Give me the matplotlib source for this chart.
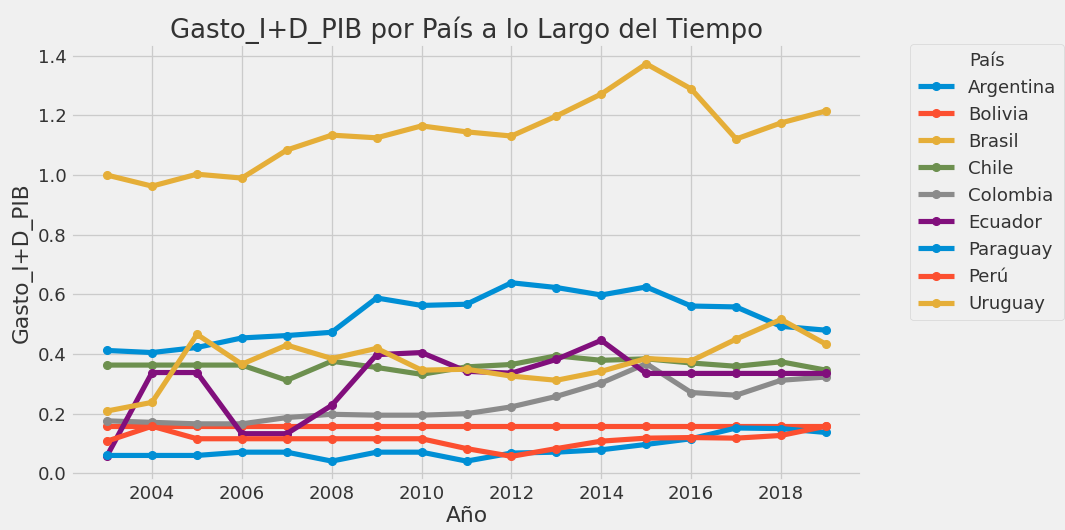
import matplotlib
import matplotlib.pyplot as plt
import numpy as np

plt.switch_backend('agg')

# ---- data ----
years = list(range(2003, 2020))

paises = ['Argentina', 'Bolivia', 'Brasil', 'Chile', 'Colombia',
          'Ecuador', 'Paraguay', 'Perú', 'Uruguay']

argentina = [0.412, 0.405, 0.422, 0.454, 0.462, 0.473, 0.588, 0.563, 0.567,
             0.639, 0.623, 0.598, 0.625, 0.561, 0.558, 0.493, 0.480]
bolivia = [0.158] * 17
brasil = [1.000, 0.963, 1.003, 0.990, 1.084, 1.134, 1.125, 1.165, 1.145,
          1.131, 1.198, 1.272, 1.373, 1.289, 1.121, 1.175, 1.215]
chile = [0.363, 0.363, 0.363, 0.363, 0.312, 0.376, 0.355, 0.332, 0.357,
         0.365, 0.394, 0.379, 0.384, 0.370, 0.359, 0.374, 0.346]
colombia = [0.176, 0.171, 0.166, 0.166, 0.187, 0.198, 0.195, 0.195, 0.200,
            0.223, 0.258, 0.303, 0.368, 0.271, 0.262, 0.312, 0.323]
ecuador = [0.059, 0.338, 0.338, 0.133, 0.133, 0.228, 0.398, 0.405, 0.342,
           0.336, 0.382, 0.446, 0.335, 0.335, 0.335, 0.335, 0.335]
paraguay = [0.060, 0.060, 0.060, 0.071, 0.071, 0.041, 0.071, 0.071, 0.041,
            0.068, 0.071, 0.079, 0.097, 0.116, 0.152, 0.150, 0.137]
peru = [0.108, 0.158, 0.116, 0.116, 0.116, 0.116, 0.116, 0.116, 0.083,
        0.057, 0.083, 0.108, 0.118, 0.120, 0.118, 0.127, 0.158]
uruguay = [0.209, 0.238, 0.466, 0.366, 0.430, 0.385, 0.419, 0.346, 0.349,
           0.326, 0.312, 0.342, 0.385, 0.377, 0.450, 0.516, 0.433]

series = [argentina, bolivia, brasil, chile, colombia,
          ecuador, paraguay, peru, uruguay]

# ---- plot ----
plt.style.use('fivethirtyeight')
plt.rcParams.update({'text.color': '#333333',
                     'axes.labelcolor': '#333333',
                     'xtick.color': '#333333',
                     'ytick.color': '#333333'})
DPI = 93
fig = plt.figure(figsize=(1065 / DPI, 530 / DPI), dpi=DPI)
fig.patch.set_facecolor('#f0f0f0')
ax = fig.add_axes([0.0668, 0.0925, 0.7425, 0.8245])

for name, vals in zip(paises, series):
    ax.plot(years, vals, marker='o', label=name)

ax.set_title('Gasto_I+D_PIB por País a lo Largo del Tiempo', pad=2)
ax.set_xlabel('Año', labelpad=2)
ax.set_ylabel('Gasto_I+D_PIB', labelpad=4)
ax.legend(title='País', bbox_to_anchor=(1.05, 1.02), loc='upper left')

plt.savefig('out.png', dpi=DPI, facecolor=fig.get_facecolor())
